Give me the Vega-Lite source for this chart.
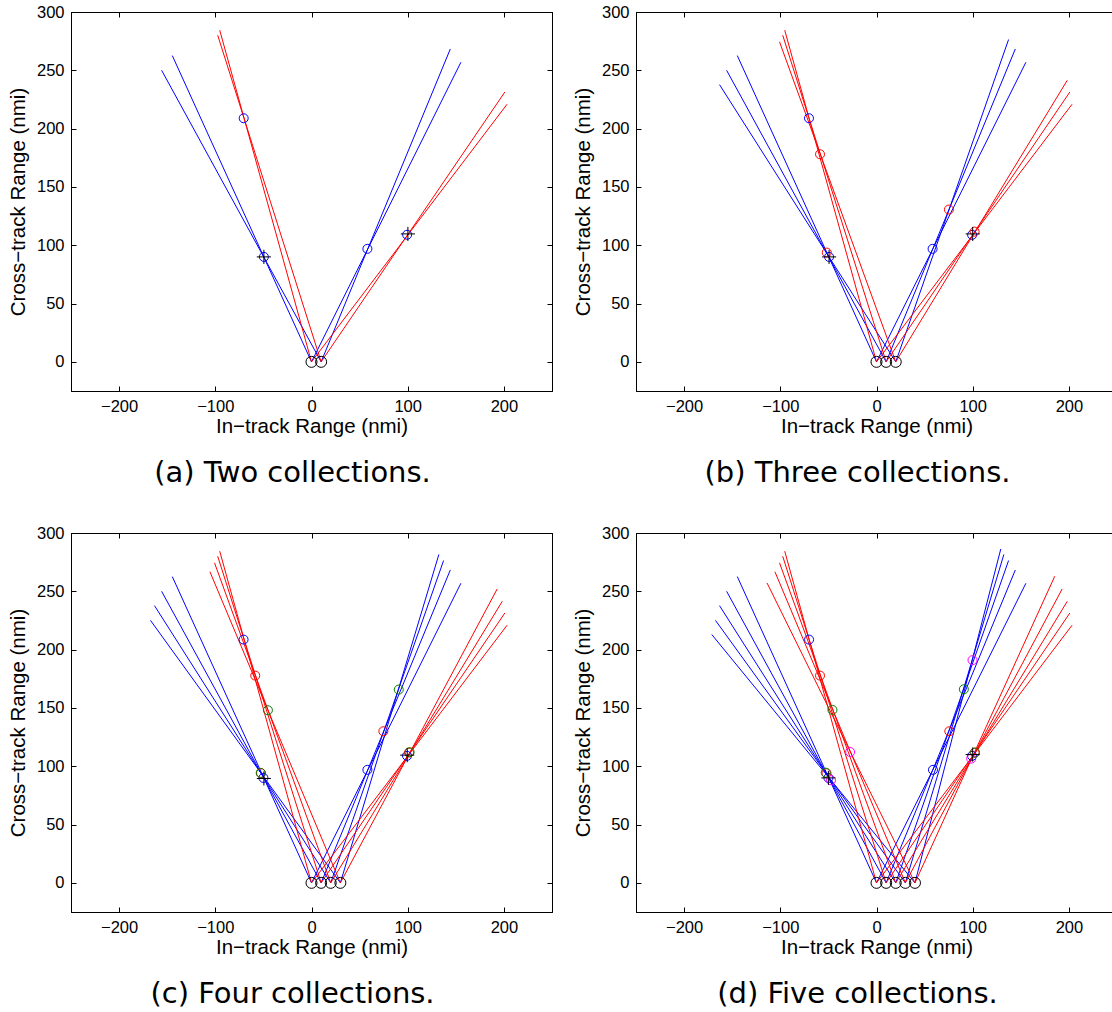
{
  "$schema": "https://vega.github.io/schema/vega-lite/v6.json",
  "padding": {"left": 7, "top": 3, "right": 0, "bottom": 0},
  "background": "white",
  "datasets": {
    "lines": [
      {"x0": 0, "id": "0BL", "c": "blue", "o": 0, "x": 0, "y": 0},
      {"x0": 0, "id": "0BL", "c": "blue", "o": 1, "x": -144.7, "y": 262.6},
      {"x0": 0, "id": "0BR", "c": "blue", "o": 0, "x": 0, "y": 0},
      {"x0": 0, "id": "0BR", "c": "blue", "o": 1, "x": 155.3, "y": 256.9},
      {"x0": 10, "id": "10BL", "c": "blue", "o": 0, "x": 10, "y": 0},
      {"x0": 10, "id": "10BL", "c": "blue", "o": 1, "x": -155.8, "y": 250.0},
      {"x0": 10, "id": "10BR", "c": "blue", "o": 0, "x": 10, "y": 0},
      {"x0": 10, "id": "10BR", "c": "blue", "o": 1, "x": 144.3, "y": 268.3},
      {"x0": 20, "id": "20BL", "c": "blue", "o": 0, "x": 20, "y": 0},
      {"x0": 20, "id": "20BL", "c": "blue", "o": 1, "x": -163.2, "y": 237.7},
      {"x0": 20, "id": "20BR", "c": "blue", "o": 0, "x": 20, "y": 0},
      {"x0": 20, "id": "20BR", "c": "blue", "o": 1, "x": 137.3, "y": 276.4},
      {"x0": 30, "id": "30BL", "c": "blue", "o": 0, "x": 30, "y": 0},
      {"x0": 30, "id": "30BL", "c": "blue", "o": 1, "x": -167.4, "y": 225.1},
      {"x0": 30, "id": "30BR", "c": "blue", "o": 0, "x": 30, "y": 0},
      {"x0": 30, "id": "30BR", "c": "blue", "o": 1, "x": 132.4, "y": 281.6},
      {"x0": 40, "id": "40BL", "c": "blue", "o": 0, "x": 40, "y": 0},
      {"x0": 40, "id": "40BL", "c": "blue", "o": 1, "x": -171.2, "y": 212.9},
      {"x0": 40, "id": "40BR", "c": "blue", "o": 0, "x": 40, "y": 0},
      {"x0": 40, "id": "40BR", "c": "blue", "o": 1, "x": 129.2, "y": 286.3},
      {"x0": 0, "id": "0RL", "c": "red", "o": 0, "x": 0, "y": 0},
      {"x0": 0, "id": "0RL", "c": "red", "o": 1, "x": -95.4, "y": 284.4},
      {"x0": 0, "id": "0RR", "c": "red", "o": 0, "x": 0, "y": 0},
      {"x0": 0, "id": "0RR", "c": "red", "o": 1, "x": 203.3, "y": 220.9},
      {"x0": 10, "id": "10RL", "c": "red", "o": 0, "x": 10, "y": 0},
      {"x0": 10, "id": "10RL", "c": "red", "o": 1, "x": -97.5, "y": 280.1},
      {"x0": 10, "id": "10RR", "c": "red", "o": 0, "x": 10, "y": 0},
      {"x0": 10, "id": "10RR", "c": "red", "o": 1, "x": 201.0, "y": 231.4},
      {"x0": 20, "id": "20RL", "c": "red", "o": 0, "x": 20, "y": 0},
      {"x0": 20, "id": "20RL", "c": "red", "o": 1, "x": -100.8, "y": 274.4},
      {"x0": 20, "id": "20RR", "c": "red", "o": 0, "x": 20, "y": 0},
      {"x0": 20, "id": "20RR", "c": "red", "o": 1, "x": 198.3, "y": 241.4},
      {"x0": 30, "id": "30RL", "c": "red", "o": 0, "x": 30, "y": 0},
      {"x0": 30, "id": "30RL", "c": "red", "o": 1, "x": -105.6, "y": 266.8},
      {"x0": 30, "id": "30RR", "c": "red", "o": 0, "x": 30, "y": 0},
      {"x0": 30, "id": "30RR", "c": "red", "o": 1, "x": 193.0, "y": 252.0},
      {"x0": 40, "id": "40RL", "c": "red", "o": 0, "x": 40, "y": 0},
      {"x0": 40, "id": "40RL", "c": "red", "o": 1, "x": -113.8, "y": 257.2},
      {"x0": 40, "id": "40RR", "c": "red", "o": 0, "x": 40, "y": 0},
      {"x0": 40, "id": "40RR", "c": "red", "o": 1, "x": 185.3, "y": 262.9}
    ],
    "pts": [
      {"p": "a", "k": "blue", "x": -70.5, "y": 208.9},
      {"p": "a", "k": "blue", "x": -49.5, "y": 90},
      {"p": "a", "k": "blue", "x": 58.1, "y": 96.9},
      {"p": "a", "k": "blue", "x": 99.4, "y": 109},
      {"p": "a", "k": "plus", "x": -49.5, "y": 90},
      {"p": "a", "k": "plus", "x": 100.2, "y": 109.7},
      {"p": "a", "k": "origin", "x": 0, "y": 0},
      {"p": "a", "k": "origin", "x": 10, "y": 0},

      {"p": "b", "k": "blue", "x": -70.2, "y": 208.9},
      {"p": "b", "k": "blue", "x": -49.3, "y": 90},
      {"p": "b", "k": "blue", "x": 58.3, "y": 96.9},
      {"p": "b", "k": "blue", "x": 99.4, "y": 108.9},
      {"p": "b", "k": "red", "x": -58.7, "y": 178},
      {"p": "b", "k": "red", "x": -51.7, "y": 93.7},
      {"p": "b", "k": "red", "x": 75.3, "y": 130.6},
      {"p": "b", "k": "red", "x": 102, "y": 111.7},
      {"p": "b", "k": "plus", "x": -49.3, "y": 90},
      {"p": "b", "k": "plus", "x": 100, "y": 109.7},
      {"p": "b", "k": "origin", "x": 0, "y": 0},
      {"p": "b", "k": "origin", "x": 10, "y": 0},
      {"p": "b", "k": "origin", "x": 20, "y": 0},

      {"p": "c", "k": "blue", "x": -70.6, "y": 208.6},
      {"p": "c", "k": "blue", "x": -50, "y": 90},
      {"p": "c", "k": "blue", "x": 58.1, "y": 96.9},
      {"p": "c", "k": "blue", "x": 99.3, "y": 108.9},
      {"p": "c", "k": "red", "x": -58.5, "y": 177.7},
      {"p": "c", "k": "red", "x": -52.5, "y": 94},
      {"p": "c", "k": "red", "x": 74.7, "y": 130},
      {"p": "c", "k": "red", "x": 101.4, "y": 111.7},
      {"p": "c", "k": "green", "x": -45.3, "y": 148},
      {"p": "c", "k": "green", "x": -52.8, "y": 94.3},
      {"p": "c", "k": "green", "x": 90.7, "y": 165.7},
      {"p": "c", "k": "green", "x": 102, "y": 112},
      {"p": "c", "k": "plus", "x": -49.5, "y": 89.5},
      {"p": "c", "k": "plus", "x": 99.5, "y": 109.5},
      {"p": "c", "k": "origin", "x": 0, "y": 0},
      {"p": "c", "k": "origin", "x": 10, "y": 0},
      {"p": "c", "k": "origin", "x": 20, "y": 0},
      {"p": "c", "k": "origin", "x": 30, "y": 0},

      {"p": "d", "k": "blue", "x": -70.1, "y": 208.6},
      {"p": "d", "k": "blue", "x": -50, "y": 90},
      {"p": "d", "k": "blue", "x": 58.7, "y": 96.9},
      {"p": "d", "k": "blue", "x": 99.3, "y": 108.9},
      {"p": "d", "k": "red", "x": -58.7, "y": 177.7},
      {"p": "d", "k": "red", "x": -52, "y": 94},
      {"p": "d", "k": "red", "x": 75.7, "y": 130},
      {"p": "d", "k": "red", "x": 102, "y": 111.7},
      {"p": "d", "k": "green", "x": -45.8, "y": 148.3},
      {"p": "d", "k": "green", "x": -52.8, "y": 94.5},
      {"p": "d", "k": "green", "x": 90.8, "y": 166},
      {"p": "d", "k": "green", "x": 102.4, "y": 111.7},
      {"p": "d", "k": "magenta", "x": -27.4, "y": 112.2},
      {"p": "d", "k": "magenta", "x": -47.3, "y": 88},
      {"p": "d", "k": "magenta", "x": 99.8, "y": 191},
      {"p": "d", "k": "magenta", "x": 98.4, "y": 106.5},
      {"p": "d", "k": "plus", "x": -50, "y": 90},
      {"p": "d", "k": "plus", "x": 100, "y": 110},
      {"p": "d", "k": "origin", "x": 0, "y": 0},
      {"p": "d", "k": "origin", "x": 10, "y": 0},
      {"p": "d", "k": "origin", "x": 20, "y": 0},
      {"p": "d", "k": "origin", "x": 30, "y": 0},
      {"p": "d", "k": "origin", "x": 40, "y": 0}
    ]
  },
  "config": {
    "view": {"stroke": "black", "strokeWidth": 1},
    "axis": {
      "grid": false,
      "domainColor": "black",
      "domainWidth": 1,
      "tickColor": "black",
      "tickWidth": 1,
      "tickSize": -5,
      "labelColor": "black",
      "titleColor": "black",
      "labelFont": "Liberation Sans",
      "titleFont": "Liberation Sans",
      "labelFontSize": 16.5,
      "titleFontSize": 20.5,
      "titleFontWeight": "normal",
      "labelPadding": 12
    },
    "title": {
      "font": "DejaVu Sans",
      "fontSize": 29,
      "fontWeight": "normal",
      "color": "black",
      "orient": "bottom",
      "frame": "group",
      "anchor": "middle",
      "dx": -19,
      "offset": 22
    }
  },
  "spacing": 35,
  "vconcat": [
    {
      "spacing": 19,
      "hconcat": [
        {
          "width": 481, "height": 379,
          "title": {"text": "(a) Two collections."},
          "layer": [
            {"data": {"name": "lines"}, "transform": [{"filter": "datum.x0 <= 10"}],
             "mark": {"type": "line", "strokeWidth": 1},
             "encoding": {
               "x": {"field": "x", "type": "quantitative", "scale": {"domain": [-250, 250], "nice": false, "zero": false},
                     "axis": {"title": "In−track Range (nmi)", "values": [-200, -100, 0, 100, 200], "titlePadding": 2}},
               "y": {"field": "y", "type": "quantitative", "scale": {"domain": [-25, 300], "nice": false, "zero": false},
                     "axis": {"title": "Cross−track Range (nmi)", "values": [0, 50, 100, 150, 200, 250, 300], "titlePadding": 8}},
               "detail": {"field": "id"},
               "order": {"field": "o"},
               "color": {"field": "c", "type": "nominal", "scale": {"domain": ["blue", "red", "green", "magenta", "black"], "range": ["#0000ff", "#ff0000", "#008000", "#ff00ff", "#000000"]}, "legend": null}
             }},
            {"data": {"name": "pts"}, "transform": [{"filter": "datum.p == 'a' && datum.k != 'plus' && datum.k != 'origin'"}],
             "mark": {"type": "point", "shape": "circle", "filled": false, "size": 81, "strokeWidth": 1, "opacity": 1},
             "encoding": {
               "x": {"field": "x", "type": "quantitative", "axis": null},
               "y": {"field": "y", "type": "quantitative", "axis": null},
               "color": {"field": "k", "type": "nominal", "legend": null}
             }},
            {"data": {"name": "pts"}, "transform": [{"filter": "datum.p == 'a' && datum.k == 'plus'"}],
             "mark": {"type": "point", "shape": "M-1,0L1,0M0,-1L0,1", "filled": false, "size": 200, "strokeWidth": 1, "color": "black", "opacity": 1},
             "encoding": {
               "x": {"field": "x", "type": "quantitative", "axis": null},
               "y": {"field": "y", "type": "quantitative", "axis": null}
             }},
            {"data": {"name": "pts"}, "transform": [{"filter": "datum.p == 'a' && datum.k == 'origin'"}],
             "mark": {"type": "point", "shape": "circle", "filled": false, "size": 121, "strokeWidth": 1, "color": "black", "opacity": 1},
             "encoding": {
               "x": {"field": "x", "type": "quantitative", "axis": {"orient": "top", "labels": false, "title": null, "values": [-200, -100, 0, 100, 200]}},
               "y": {"field": "y", "type": "quantitative", "axis": {"orient": "right", "labels": false, "title": null, "values": [0, 50, 100, 150, 200, 250, 300]}}
             }}
          ],
          "resolve": {"axis": {"x": "independent", "y": "independent"}}
        },
        {
          "width": 481, "height": 379,
          "title": {"text": "(b) Three collections."},
          "layer": [
            {"data": {"name": "lines"}, "transform": [{"filter": "datum.x0 <= 20"}],
             "mark": {"type": "line", "strokeWidth": 1},
             "encoding": {
               "x": {"field": "x", "type": "quantitative", "scale": {"domain": [-250, 250], "nice": false, "zero": false},
                     "axis": {"title": "In−track Range (nmi)", "values": [-200, -100, 0, 100, 200], "titlePadding": 2}},
               "y": {"field": "y", "type": "quantitative", "scale": {"domain": [-25, 300], "nice": false, "zero": false},
                     "axis": {"title": "Cross−track Range (nmi)", "values": [0, 50, 100, 150, 200, 250, 300], "titlePadding": 8}},
               "detail": {"field": "id"},
               "order": {"field": "o"},
               "color": {"field": "c", "type": "nominal", "scale": {"domain": ["blue", "red", "green", "magenta", "black"], "range": ["#0000ff", "#ff0000", "#008000", "#ff00ff", "#000000"]}, "legend": null}
             }},
            {"data": {"name": "pts"}, "transform": [{"filter": "datum.p == 'b' && datum.k != 'plus' && datum.k != 'origin'"}],
             "mark": {"type": "point", "shape": "circle", "filled": false, "size": 81, "strokeWidth": 1, "opacity": 1},
             "encoding": {
               "x": {"field": "x", "type": "quantitative", "axis": null},
               "y": {"field": "y", "type": "quantitative", "axis": null},
               "color": {"field": "k", "type": "nominal", "legend": null}
             }},
            {"data": {"name": "pts"}, "transform": [{"filter": "datum.p == 'b' && datum.k == 'plus'"}],
             "mark": {"type": "point", "shape": "M-1,0L1,0M0,-1L0,1", "filled": false, "size": 200, "strokeWidth": 1, "color": "black", "opacity": 1},
             "encoding": {
               "x": {"field": "x", "type": "quantitative", "axis": null},
               "y": {"field": "y", "type": "quantitative", "axis": null}
             }},
            {"data": {"name": "pts"}, "transform": [{"filter": "datum.p == 'b' && datum.k == 'origin'"}],
             "mark": {"type": "point", "shape": "circle", "filled": false, "size": 121, "strokeWidth": 1, "color": "black", "opacity": 1},
             "encoding": {
               "x": {"field": "x", "type": "quantitative", "axis": {"orient": "top", "labels": false, "title": null, "values": [-200, -100, 0, 100, 200]}},
               "y": {"field": "y", "type": "quantitative", "axis": {"orient": "right", "labels": false, "title": null, "values": [0, 50, 100, 150, 200, 250, 300]}}
             }}
          ],
          "resolve": {"axis": {"x": "independent", "y": "independent"}}
        }
      ]
    },
    {
      "spacing": 19,
      "hconcat": [
        {
          "width": 481, "height": 379,
          "title": {"text": "(c) Four collections."},
          "layer": [
            {"data": {"name": "lines"}, "transform": [{"filter": "datum.x0 <= 30"}],
             "mark": {"type": "line", "strokeWidth": 1},
             "encoding": {
               "x": {"field": "x", "type": "quantitative", "scale": {"domain": [-250, 250], "nice": false, "zero": false},
                     "axis": {"title": "In−track Range (nmi)", "values": [-200, -100, 0, 100, 200], "titlePadding": 2}},
               "y": {"field": "y", "type": "quantitative", "scale": {"domain": [-25, 300], "nice": false, "zero": false},
                     "axis": {"title": "Cross−track Range (nmi)", "values": [0, 50, 100, 150, 200, 250, 300], "titlePadding": 8}},
               "detail": {"field": "id"},
               "order": {"field": "o"},
               "color": {"field": "c", "type": "nominal", "scale": {"domain": ["blue", "red", "green", "magenta", "black"], "range": ["#0000ff", "#ff0000", "#008000", "#ff00ff", "#000000"]}, "legend": null}
             }},
            {"data": {"name": "pts"}, "transform": [{"filter": "datum.p == 'c' && datum.k != 'plus' && datum.k != 'origin'"}],
             "mark": {"type": "point", "shape": "circle", "filled": false, "size": 81, "strokeWidth": 1, "opacity": 1},
             "encoding": {
               "x": {"field": "x", "type": "quantitative", "axis": null},
               "y": {"field": "y", "type": "quantitative", "axis": null},
               "color": {"field": "k", "type": "nominal", "legend": null}
             }},
            {"data": {"name": "pts"}, "transform": [{"filter": "datum.p == 'c' && datum.k == 'plus'"}],
             "mark": {"type": "point", "shape": "M-1,0L1,0M0,-1L0,1", "filled": false, "size": 200, "strokeWidth": 1, "color": "black", "opacity": 1},
             "encoding": {
               "x": {"field": "x", "type": "quantitative", "axis": null},
               "y": {"field": "y", "type": "quantitative", "axis": null}
             }},
            {"data": {"name": "pts"}, "transform": [{"filter": "datum.p == 'c' && datum.k == 'origin'"}],
             "mark": {"type": "point", "shape": "circle", "filled": false, "size": 121, "strokeWidth": 1, "color": "black", "opacity": 1},
             "encoding": {
               "x": {"field": "x", "type": "quantitative", "axis": {"orient": "top", "labels": false, "title": null, "values": [-200, -100, 0, 100, 200]}},
               "y": {"field": "y", "type": "quantitative", "axis": {"orient": "right", "labels": false, "title": null, "values": [0, 50, 100, 150, 200, 250, 300]}}
             }}
          ],
          "resolve": {"axis": {"x": "independent", "y": "independent"}}
        },
        {
          "width": 481, "height": 379,
          "title": {"text": "(d) Five collections."},
          "layer": [
            {"data": {"name": "lines"}, "transform": [{"filter": "datum.x0 <= 40"}],
             "mark": {"type": "line", "strokeWidth": 1},
             "encoding": {
               "x": {"field": "x", "type": "quantitative", "scale": {"domain": [-250, 250], "nice": false, "zero": false},
                     "axis": {"title": "In−track Range (nmi)", "values": [-200, -100, 0, 100, 200], "titlePadding": 2}},
               "y": {"field": "y", "type": "quantitative", "scale": {"domain": [-25, 300], "nice": false, "zero": false},
                     "axis": {"title": "Cross−track Range (nmi)", "values": [0, 50, 100, 150, 200, 250, 300], "titlePadding": 8}},
               "detail": {"field": "id"},
               "order": {"field": "o"},
               "color": {"field": "c", "type": "nominal", "scale": {"domain": ["blue", "red", "green", "magenta", "black"], "range": ["#0000ff", "#ff0000", "#008000", "#ff00ff", "#000000"]}, "legend": null}
             }},
            {"data": {"name": "pts"}, "transform": [{"filter": "datum.p == 'd' && datum.k != 'plus' && datum.k != 'origin'"}],
             "mark": {"type": "point", "shape": "circle", "filled": false, "size": 81, "strokeWidth": 1, "opacity": 1},
             "encoding": {
               "x": {"field": "x", "type": "quantitative", "axis": null},
               "y": {"field": "y", "type": "quantitative", "axis": null},
               "color": {"field": "k", "type": "nominal", "legend": null}
             }},
            {"data": {"name": "pts"}, "transform": [{"filter": "datum.p == 'd' && datum.k == 'plus'"}],
             "mark": {"type": "point", "shape": "M-1,0L1,0M0,-1L0,1", "filled": false, "size": 200, "strokeWidth": 1, "color": "black", "opacity": 1},
             "encoding": {
               "x": {"field": "x", "type": "quantitative", "axis": null},
               "y": {"field": "y", "type": "quantitative", "axis": null}
             }},
            {"data": {"name": "pts"}, "transform": [{"filter": "datum.p == 'd' && datum.k == 'origin'"}],
             "mark": {"type": "point", "shape": "circle", "filled": false, "size": 121, "strokeWidth": 1, "color": "black", "opacity": 1},
             "encoding": {
               "x": {"field": "x", "type": "quantitative", "axis": {"orient": "top", "labels": false, "title": null, "values": [-200, -100, 0, 100, 200]}},
               "y": {"field": "y", "type": "quantitative", "axis": {"orient": "right", "labels": false, "title": null, "values": [0, 50, 100, 150, 200, 250, 300]}}
             }}
          ],
          "resolve": {"axis": {"x": "independent", "y": "independent"}}
        }
      ]
    }
  ]
}
